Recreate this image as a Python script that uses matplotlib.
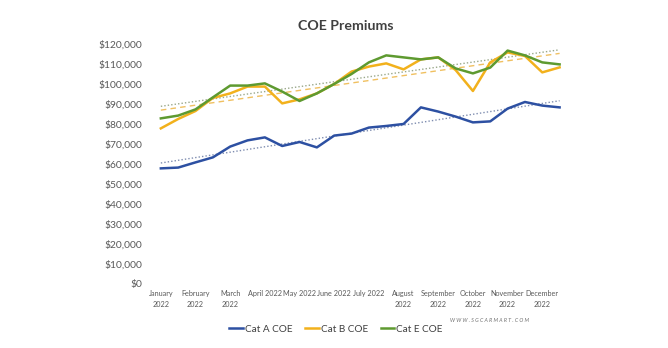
import matplotlib
matplotlib.use("Agg")
import matplotlib.pyplot as plt
import numpy as np
from matplotlib.ticker import FuncFormatter

plt.rcParams['font.family'] = ['Lato', 'DejaVu Sans']

# Data (two bidding exercises per month, 2022)
cat_a = [57800, 58200, 60800, 63300, 68700, 71800, 73300, 69000, 71000, 68300,
         74200, 75200, 78200, 79000, 80000, 88300, 86200, 83700, 80800, 81300,
         87700, 91000, 89200, 88300]
cat_b = [77800, 82500, 86500, 93000, 95300, 98700, 98700, 90300, 92300, 95300,
         100000, 106200, 108700, 110300, 107300, 112300, 113300, 107000, 96500, 110800,
         115800, 114000, 105800, 108300]
cat_e = [82800, 84200, 87300, 93300, 99200, 99200, 100300, 96200, 91500, 95300,
         100000, 105000, 110800, 114300, 113300, 112300, 113300, 107800, 105300, 108200,
         116700, 114300, 110800, 109800]
month_labels = ["January\n2022", "February\n2022", "March\n2022", "April 2022", "May 2022",
                "June 2022", "July 2022", "August\n2022", "September\n2022", "October\n2022",
                "November\n2022", "December\n2022"]
series_names = ["Cat A COE", "Cat B COE", "Cat E COE"]

c_a, c_b, c_e = "#2D50A2", "#F2B11C", "#5E9A30"

fig = plt.figure(figsize=(6.68, 3.48), dpi=100)
ax = fig.add_axes([0.2265, 0.184, 0.6255, 0.6896])

x = np.arange(len(cat_a))
ax.plot(x, cat_a, color=c_a, lw=1.8, label=series_names[0], zorder=3)
ax.plot(x, cat_b, color=c_b, lw=1.8, label=series_names[1], zorder=3)
ax.plot(x, cat_e, color=c_e, lw=1.8, label=series_names[2], zorder=4)

# linear trendlines
for vals, col, ls in [(cat_a, "#7F8DB0", (0, (1, 1.5))),
                      (cat_b, "#F0C060", (0, (4, 3))),
                      (cat_e, "#9AA88A", (0, (1, 1.5)))]:
    p = np.polyfit(x, vals, 1)
    ax.plot(x, np.polyval(p, x), color=col, lw=1.0, ls=ls, zorder=2)

ax.set_xlim(-0.55, len(cat_a) - 0.45)
ax.set_ylim(0, 120000)
ax.set_yticks(np.arange(0, 120001, 10000))
ax.yaxis.set_major_formatter(FuncFormatter(lambda v, _: f"${v:,.0f}"))
ax.set_xticks(x[::2])
ax.set_xticklabels(month_labels, fontsize=5.2, color="#595959", linespacing=1.55)
ax.tick_params(axis='y', length=0, pad=6.5, labelsize=7.4, labelcolor="#595959")
ax.tick_params(axis='x', length=0, pad=4.5)
for s in ax.spines.values():
    s.set_visible(False)

fig.text(0.517, 0.926, "COE Premiums", ha='center', va='center', fontsize=10.2,
         fontweight='bold', color="#404040")

leg = fig.legend(loc='center', bbox_to_anchor=(0.503, 0.054), ncol=3, frameon=False,
                 fontsize=7.2, handlelength=1.35, handletextpad=0.2, columnspacing=1.3,
                 labelcolor="#404040")

fig.text(0.733, 0.078, "W W W . S G C A R M A R T . C O M", ha='center', va='center',
         fontsize=3.8, style='italic', color="#707070")

fig.savefig("out.png", dpi=100)
